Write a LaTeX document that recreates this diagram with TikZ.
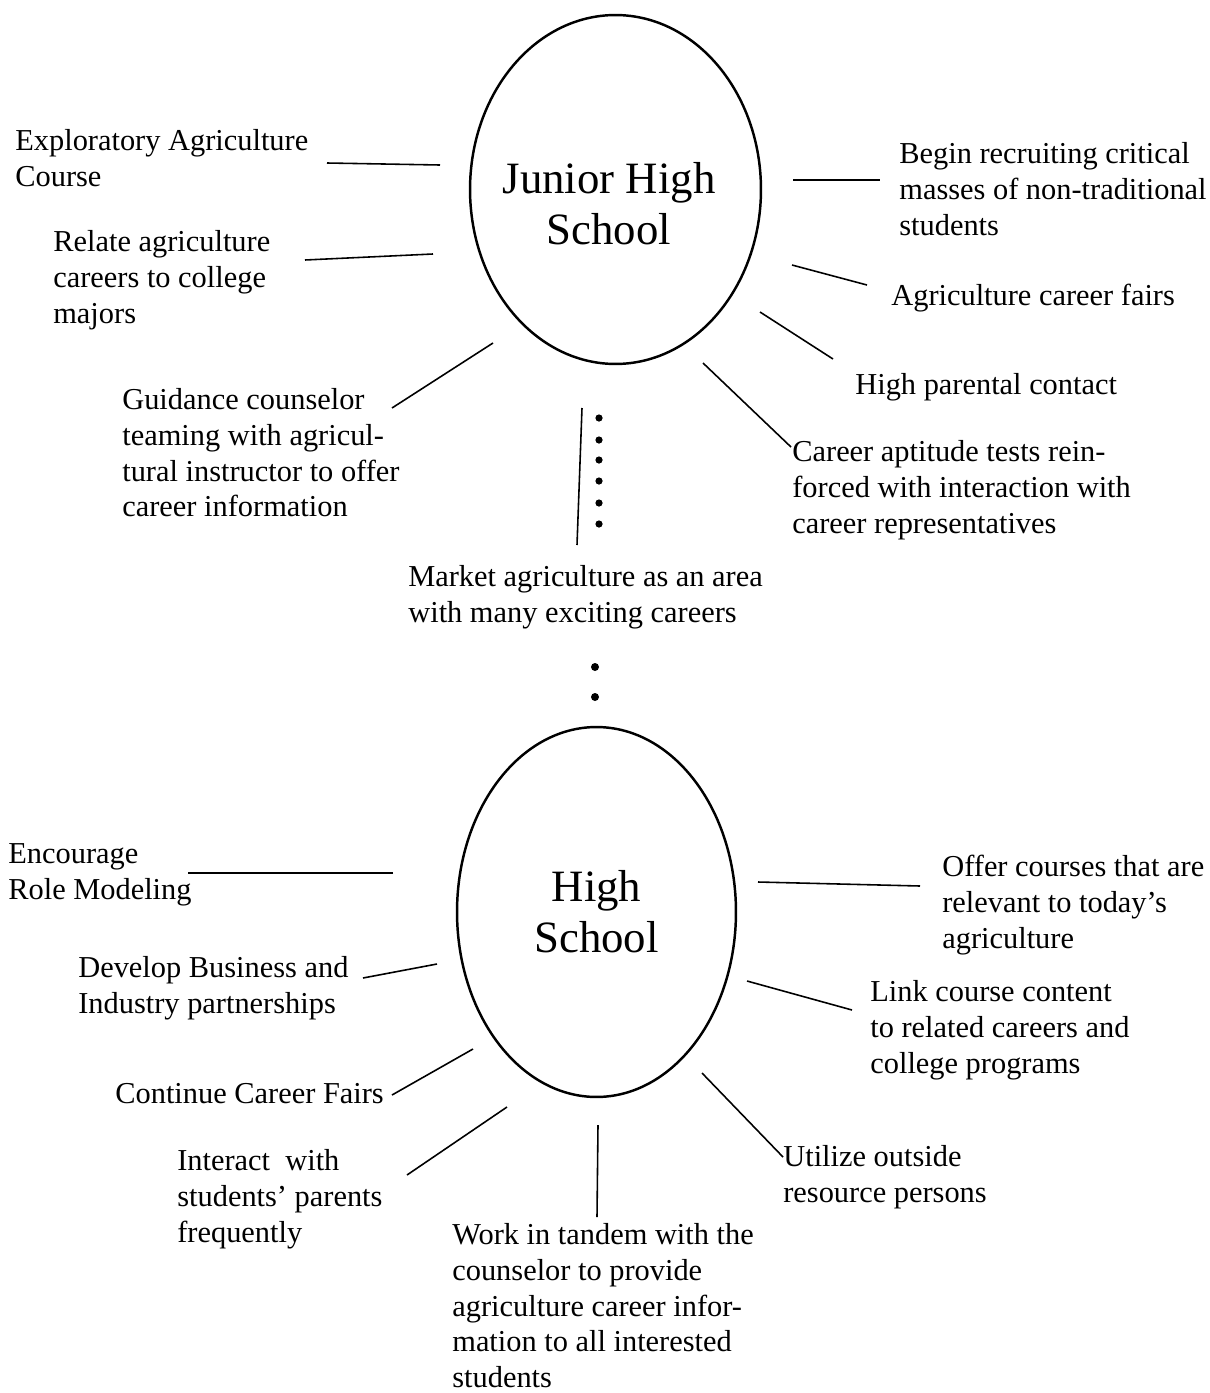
\documentclass[tikz,border=0pt]{standalone}
\usepackage{fontspec}
\setmainfont{Liberation Serif}
\usetikzlibrary{shapes.geometric}

\begin{document}
\begin{tikzpicture}[x=0.02cm,y=-0.02cm,
    hub/.style={draw,ellipse,line width=1.4pt,inner sep=0pt},
    hubtxt/.style={font=\fontsize{25.5}{29}\selectfont,align=center,inner sep=0pt},
    item/.style={font=\fontsize{17.3}{20.4}\selectfont,align=left,anchor=north west,inner sep=0pt},
    spoke/.style={line width=0.9pt}]
  \useasboundingbox (0,0) rectangle (1210,1393);

  % the two schools
  \node[hub,minimum width=5.82cm,minimum height=6.98cm] (jhs) at (615.5,189.5) {};
  \node[hubtxt] (jhstxt) at (609,204) {Junior High\\School};
  \node[hub,hubtxt,minimum width=5.58cm,minimum height=7.4cm] (hs) at (596.5,912) {High\\School};

  % junior high items
  \node[item] (explore) at (15,129) {Exploratory Agriculture\\Course};
  \node[item] (relate) at (53,230) {Relate agriculture\\careers to college\\majors};
  \node[item] (guide) at (122,388) {Guidance counselor\\teaming with agricul-\\tural instructor to offer\\career information};
  \node[item] (recruit) at (899,142) {Begin recruiting critical\\masses of non-traditional\\students};
  \node[item] (fairs) at (891,284) {Agriculture career fairs};
  \node[item] (parent) at (855,373) {High parental contact};
  \node[item] (aptitude) at (792,440) {Career aptitude tests rein-\\forced with interaction with\\career representatives};
  \node[item] (market) at (408,565) {Market agriculture as an area\\with many exciting careers};

  % high school items
  \node[item] (rolemod) at (8,843) {Encourage\\Role Modeling};
  \node[item] (partner) at (78,956) {Develop Business and\\Industry partnerships};
  \node[item] (contfair) at (115,1083) {Continue Career Fairs};
  \node[item] (interact) at (177,1149) {Interact\ \ with\\students' parents\\frequently};
  \node[item] (tandem) at (452,1223) {Work in tandem with the\\counselor to provide\\agriculture career infor-\\mation to all interested\\students};
  \node[item] (offer) at (942,855) {Offer courses that are\\relevant to today's\\agriculture};
  \node[item] (link) at (870,980) {Link course content\\to related careers and\\college programs};
  \node[item] (utilize) at (783,1145) {Utilize outside\\resource persons};

  % spoke ends
  \coordinate (a1) at (440,165);  \coordinate (b1) at (327,163);
  \coordinate (a2) at (433,254);  \coordinate (b2) at (305,260);
  \coordinate (a3) at (493,343);  \coordinate (b3) at (392,408);
  \coordinate (a4) at (793,180);  \coordinate (b4) at (880,180);
  \coordinate (a5) at (792,265);  \coordinate (b5) at (867,285);
  \coordinate (a6) at (760,312);  \coordinate (b6) at (833,359);
  \coordinate (a7) at (703,363);  \coordinate (b7) at (791,447);
  \coordinate (a8) at (393,873);  \coordinate (b8) at (188,873);
  \coordinate (a9) at (437,964);  \coordinate (b9) at (363,978);
  \coordinate (a10) at (473,1049); \coordinate (b10) at (392,1095);
  \coordinate (a11) at (507,1107); \coordinate (b11) at (407,1175);
  \coordinate (a12) at (598,1125); \coordinate (b12) at (597,1217);
  \coordinate (a13) at (758,882);  \coordinate (b13) at (920,886);
  \coordinate (a14) at (747,981);  \coordinate (b14) at (852,1010);
  \coordinate (a15) at (702,1073); \coordinate (b15) at (783,1157);
  \coordinate (m1) at (582,408);  \coordinate (m2) at (577,545);

  \foreach \i in {1,...,15}
    \draw[spoke] (a\i) -- (b\i);
  \draw[spoke] (m1) -- (m2);

  % dots
  \foreach \y in {418,440,460,481,503,524}
    \fill (599,\y) circle (3.6);
  \foreach \y in {667,697}
    \fill (595,\y) circle (4);
\end{tikzpicture}
\end{document}
